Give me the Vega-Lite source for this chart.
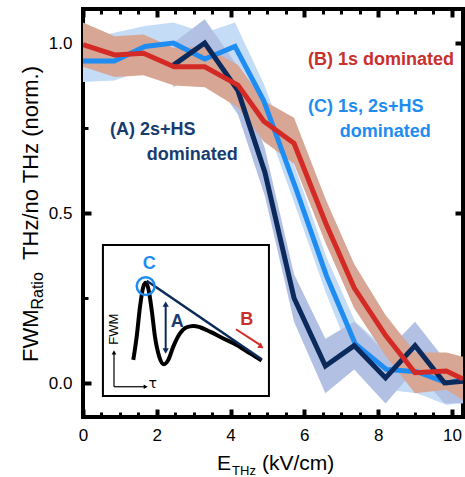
{
  "$schema": "https://vega.github.io/schema/vega-lite/v6.json",
  "width": 380,
  "height": 408,
  "autosize": {"type": "none"},
  "padding": {"left": 83, "top": 9, "right": 2, "bottom": 60},
  "background": "white",
  "config": {
    "view": {"stroke": "black", "strokeWidth": 4},
    "font": "Liberation Sans",
    "axis": {"domain": false, "grid": false, "labelFont": "Liberation Sans", "labelFontSize": 17, "labelColor": "black", "tickColor": "black", "labelFlush": false, "labelOverlap": false, "zindex": 1}
  },
  "resolve": {"axis": {"x": "independent", "y": "independent"}},
  "datasets": {
    "series": [
      {"s": "C", "x": 0, "y": 0.947, "lo": 0.885, "hi": 1.01},
      {"s": "C", "x": 0.85, "y": 0.947, "lo": 0.89, "hi": 1.03},
      {"s": "C", "x": 1.68, "y": 0.99, "lo": 0.92, "hi": 1.05},
      {"s": "C", "x": 2.45, "y": 1.0, "lo": 0.93, "hi": 1.06},
      {"s": "C", "x": 3.3, "y": 0.953, "lo": 0.89, "hi": 1.03},
      {"s": "C", "x": 4.12, "y": 0.99, "lo": 0.93, "hi": 1.06},
      {"s": "C", "x": 4.9, "y": 0.83, "lo": 0.78, "hi": 0.88},
      {"s": "C", "x": 5.76, "y": 0.575, "lo": 0.52, "hi": 0.63},
      {"s": "C", "x": 6.6, "y": 0.315, "lo": 0.26, "hi": 0.37},
      {"s": "C", "x": 7.38, "y": 0.115, "lo": 0.05, "hi": 0.18},
      {"s": "C", "x": 8.22, "y": 0.04, "lo": -0.02, "hi": 0.1},
      {"s": "C", "x": 9.05, "y": 0.033, "lo": -0.03, "hi": 0.09},
      {"s": "C", "x": 9.87, "y": 0.0, "lo": -0.065, "hi": 0.06},
      {"s": "C", "x": 10.3, "y": 0.01, "lo": -0.055, "hi": 0.07},
      {"s": "A", "x": 2.45, "y": 0.935, "lo": 0.87, "hi": 1.0},
      {"s": "A", "x": 3.3, "y": 1.0, "lo": 0.93, "hi": 1.07},
      {"s": "A", "x": 4.2, "y": 0.86, "lo": 0.79, "hi": 0.93},
      {"s": "A", "x": 4.93, "y": 0.62, "lo": 0.55, "hi": 0.69},
      {"s": "A", "x": 5.72, "y": 0.25, "lo": 0.18, "hi": 0.32},
      {"s": "A", "x": 6.57, "y": 0.05, "lo": -0.03, "hi": 0.13},
      {"s": "A", "x": 7.35, "y": 0.11, "lo": 0.04, "hi": 0.18},
      {"s": "A", "x": 8.2, "y": 0.015, "lo": -0.06, "hi": 0.09},
      {"s": "A", "x": 9.0, "y": 0.11, "lo": 0.04, "hi": 0.18},
      {"s": "A", "x": 9.8, "y": 0.0, "lo": -0.06, "hi": 0.07},
      {"s": "A", "x": 10.3, "y": 0.005, "lo": -0.06, "hi": 0.07},
      {"s": "B", "x": 0, "y": 0.995, "lo": 0.93, "hi": 1.06},
      {"s": "B", "x": 0.86, "y": 0.965, "lo": 0.9, "hi": 1.02},
      {"s": "B", "x": 1.64, "y": 0.97, "lo": 0.905, "hi": 1.025},
      {"s": "B", "x": 2.47, "y": 0.93, "lo": 0.875, "hi": 0.985},
      {"s": "B", "x": 3.3, "y": 0.93, "lo": 0.87, "hi": 0.99},
      {"s": "B", "x": 4.2, "y": 0.876, "lo": 0.81, "hi": 0.935},
      {"s": "B", "x": 4.9, "y": 0.77, "lo": 0.71, "hi": 0.83},
      {"s": "B", "x": 5.72, "y": 0.705, "lo": 0.645, "hi": 0.78},
      {"s": "B", "x": 6.58, "y": 0.47, "lo": 0.41, "hi": 0.54},
      {"s": "B", "x": 7.35, "y": 0.28, "lo": 0.22, "hi": 0.35},
      {"s": "B", "x": 8.2, "y": 0.14, "lo": 0.08, "hi": 0.2},
      {"s": "B", "x": 9.0, "y": 0.03, "lo": -0.03, "hi": 0.09},
      {"s": "B", "x": 9.85, "y": 0.035, "lo": -0.02, "hi": 0.09},
      {"s": "B", "x": 10.3, "y": 0.012, "lo": -0.05, "hi": 0.077}
    ],
    "ann": [
      {"g": "B", "t": "(B) 1s dominated", "x": 6.1, "y": 0.95},
      {"g": "C", "t": "(C) 1s, 2s+HS", "x": 6.1, "y": 0.812},
      {"g": "C", "t": "dominated", "x": 6.96, "y": 0.738},
      {"g": "A", "t": "(A) 2s+HS", "x": 0.73, "y": 0.744},
      {"g": "A", "t": "dominated", "x": 1.73, "y": 0.67},
      {"g": "iC", "t": "C", "x": 1.797, "y": 0.35},
      {"g": "iA", "t": "A", "x": 2.556, "y": 0.18},
      {"g": "iB", "t": "B", "x": 4.436, "y": 0.185}
    ],
    "curve": [
      {"x": 1.363, "y": 0.068}, {"x": 1.455, "y": 0.136}, {"x": 1.545, "y": 0.224},
      {"x": 1.634, "y": 0.283}, {"x": 1.699, "y": 0.295}, {"x": 1.77, "y": 0.278},
      {"x": 1.862, "y": 0.215}, {"x": 1.951, "y": 0.136}, {"x": 2.068, "y": 0.077},
      {"x": 2.195, "y": 0.055}, {"x": 2.312, "y": 0.068}, {"x": 2.447, "y": 0.107},
      {"x": 2.629, "y": 0.146}, {"x": 2.81, "y": 0.164}, {"x": 2.989, "y": 0.168},
      {"x": 3.171, "y": 0.164}, {"x": 3.442, "y": 0.151}, {"x": 3.802, "y": 0.131},
      {"x": 4.165, "y": 0.112}, {"x": 4.526, "y": 0.087}, {"x": 4.843, "y": 0.066}
    ],
    "arr": [
      {"k": "A", "x": 2.241, "y": 0.1, "x2": 2.241, "y2": 0.228},
      {"k": "B", "x": 4.146, "y": 0.158, "x2": 4.8, "y2": 0.112},
      {"k": "V", "x": 0.84, "y": -0.011, "x2": 0.84, "y2": 0.085},
      {"k": "H", "x": 0.84, "y": -0.011, "x2": 1.68, "y2": -0.011}
    ],
    "heads": [
      {"k": "A", "d": "up", "x": 2.241, "y": 0.232},
      {"k": "A", "d": "down", "x": 2.241, "y": 0.094},
      {"k": "V", "d": "up", "x": 0.84, "y": 0.09},
      {"k": "H", "d": "right", "x": 1.7, "y": -0.011}
    ],
    "titles": [
      {"k": "xm", "t": "E", "x": 3.63, "y": -0.256},
      {"k": "xs", "t": "THz", "x": 4.04, "y": -0.272},
      {"k": "xm", "t": "(kV/cm)", "x": 4.85, "y": -0.256},
      {"k": "ym", "t": "FWM", "x": -1.22, "y": 0.062},
      {"k": "ys", "t": "Ratio", "x": -1.084, "y": 0.216},
      {"k": "ym", "t": "THz/no THz (norm.)", "x": -1.22, "y": 0.362}
    ]
  },
  "encoding": {
    "x": {"field": "x", "type": "quantitative", "scale": {"domain": [0, 10.3], "nice": false, "zero": false}, "axis": null},
    "y": {"field": "y", "type": "quantitative", "scale": {"domain": [-0.1, 1.1], "nice": false, "zero": false}, "axis": null}
  },
  "layer": [
    {
      "data": {"name": "series"},
      "transform": [{"filter": "datum.s === 'C'"}],
      "mark": {"type": "area", "color": "#c4dcf6", "opacity": 1, "clip": true},
      "encoding": {
        "x": {"field": "x", "type": "quantitative", "scale": {"domain": [0, 10.3], "nice": false, "zero": false},
              "axis": {"orient": "bottom", "values": [0, 2, 4, 6, 8, 10], "ticks": false, "labelPadding": 10, "title": null}},
        "y": {"field": "lo", "type": "quantitative", "scale": {"domain": [-0.1, 1.1], "nice": false, "zero": false},
              "axis": {"orient": "left", "values": [0, 0.5, 1], "format": ".1f", "ticks": false, "labelPadding": 11, "title": null}},
        "y2": {"field": "hi"}
      }
    },
    {
      "data": {"name": "series"},
      "transform": [{"filter": "datum.s === 'A'"}],
      "mark": {"type": "area", "color": "#b1c0e3", "opacity": 1, "clip": true},
      "encoding": {
        "x": {"field": "x", "type": "quantitative", "scale": {"domain": [0, 10.3], "nice": false, "zero": false},
              "axis": {"orient": "bottom", "values": [0, 2, 4, 6, 8, 10], "labels": false, "offset": -8, "tickSize": 8, "tickWidth": 4, "title": null}},
        "y": {"field": "lo", "type": "quantitative", "scale": {"domain": [-0.1, 1.1], "nice": false, "zero": false},
              "axis": {"orient": "left", "values": [0, 0.5, 1], "labels": false, "offset": -8, "tickSize": 8, "tickWidth": 4, "title": null}},
        "y2": {"field": "hi"}
      }
    },
    {
      "data": {"name": "series"},
      "transform": [{"filter": "datum.s === 'B'"}],
      "mark": {"type": "area", "color": "#d7a694", "opacity": 1, "clip": true},
      "encoding": {
        "x": {"field": "x", "type": "quantitative", "scale": {"domain": [0, 10.3], "nice": false, "zero": false},
              "axis": {"orient": "bottom", "values": [0.5, 1, 1.5, 2.5, 3, 3.5, 4.5, 5, 5.5, 6.5, 7, 7.5, 8.5, 9, 9.5], "labels": false, "offset": -5, "tickSize": 5, "tickWidth": 3, "title": null}},
        "y": {"field": "lo", "type": "quantitative", "scale": {"domain": [-0.1, 1.1], "nice": false, "zero": false},
              "axis": {"orient": "left", "values": [0.25, 0.75], "labels": false, "offset": -5, "tickSize": 5, "tickWidth": 3, "title": null}},
        "y2": {"field": "hi"}
      }
    },
    {
      "data": {"name": "series"},
      "transform": [{"filter": "datum.s === 'C'"}],
      "mark": {"type": "line", "color": "#1e8cf0", "strokeWidth": 5, "clip": true},
      "encoding": {
        "x": {"field": "x", "type": "quantitative", "scale": {"domain": [0, 10.3], "nice": false, "zero": false},
              "axis": {"orient": "top", "values": [0, 2, 4, 6, 8, 10], "labels": false, "offset": -8, "tickSize": 8, "tickWidth": 4, "title": null}},
        "y": {"field": "y", "type": "quantitative", "scale": {"domain": [-0.1, 1.1], "nice": false, "zero": false},
              "axis": {"orient": "right", "values": [0, 0.5, 1], "labels": false, "offset": -8, "tickSize": 8, "tickWidth": 4, "title": null}}
      }
    },
    {
      "data": {"name": "series"},
      "transform": [{"filter": "datum.s === 'A'"}],
      "mark": {"type": "line", "color": "#0b2a5b", "strokeWidth": 5, "clip": true},
      "encoding": {
        "x": {"field": "x", "type": "quantitative", "scale": {"domain": [0, 10.3], "nice": false, "zero": false},
              "axis": {"orient": "top", "values": [0.5, 1, 1.5, 2.5, 3, 3.5, 4.5, 5, 5.5, 6.5, 7, 7.5, 8.5, 9, 9.5], "labels": false, "offset": -5, "tickSize": 5, "tickWidth": 3, "title": null}}
      }
    },
    {
      "data": {"name": "series"},
      "transform": [{"filter": "datum.s === 'B'"}],
      "mark": {"type": "line", "color": "#d42a26", "strokeWidth": 5, "clip": true},
      "encoding": {}
    },
    {
      "data": {"values": [{"x": 0.54, "x2": 5.04, "y": -0.038, "y2": 0.406}]},
      "mark": {"type": "rect", "fill": "white", "stroke": "black", "strokeWidth": 2},
      "encoding": {"x2": {"field": "x2"}, "y2": {"field": "y2"}}
    },
    {
      "data": {"name": "curve"},
      "mark": {"type": "line", "color": "black", "strokeWidth": 4, "interpolate": "monotone"},
      "encoding": {}
    },
    {
      "data": {"values": [{"x": 1.726, "y": 0.301}, {"x": 4.843, "y": 0.0696}]},
      "mark": {"type": "line", "color": "#0b2a5b", "strokeWidth": 2.5},
      "encoding": {}
    },
    {
      "data": {"values": [{"x": 1.699, "y": 0.285}]},
      "mark": {"type": "point", "shape": "circle", "size": 320, "filled": false, "stroke": "#1e8cf0", "strokeWidth": 2.5, "opacity": 1},
      "encoding": {}
    },
    {
      "data": {"name": "arr"},
      "transform": [{"filter": "datum.k === 'A'"}],
      "mark": {"type": "rule", "color": "#0b2a5b", "strokeWidth": 2},
      "encoding": {"x2": {"field": "x2"}, "y2": {"field": "y2"}}
    },
    {
      "data": {"name": "arr"},
      "transform": [{"filter": "datum.k === 'B'"}],
      "mark": {"type": "rule", "color": "#d42a26", "strokeWidth": 2},
      "encoding": {"x2": {"field": "x2"}, "y2": {"field": "y2"}}
    },
    {
      "data": {"name": "arr"},
      "transform": [{"filter": "datum.k === 'V' || datum.k === 'H'"}],
      "mark": {"type": "rule", "color": "black", "strokeWidth": 1.2},
      "encoding": {"x2": {"field": "x2"}, "y2": {"field": "y2"}}
    },
    {
      "data": {"name": "heads"},
      "transform": [{"filter": "datum.k === 'A'"}],
      "mark": {"type": "point", "filled": true, "color": "#0b2a5b", "size": 40, "opacity": 1},
      "encoding": {"shape": {"field": "d", "type": "nominal", "scale": {"domain": ["up", "down", "right"], "range": ["triangle-up", "triangle-down", "triangle-right"]}, "legend": null}}
    },
    {
      "data": {"name": "heads"},
      "transform": [{"filter": "datum.k === 'V' || datum.k === 'H'"}],
      "mark": {"type": "point", "filled": true, "color": "black", "size": 22, "opacity": 1},
      "encoding": {"shape": {"field": "d", "type": "nominal", "scale": {"domain": ["up", "down", "right"], "range": ["triangle-up", "triangle-down", "triangle-right"]}, "legend": null}}
    },
    {
      "data": {"values": [{"x": 4.83, "y": 0.107}]},
      "mark": {"type": "point", "shape": "triangle-right", "angle": 35, "filled": true, "color": "#d42a26", "size": 40, "opacity": 1},
      "encoding": {}
    },
    {
      "data": {"name": "ann"},
      "transform": [{"filter": "datum.g === 'A'"}],
      "mark": {"type": "text", "font": "Liberation Sans", "fontWeight": "bold", "fontSize": 18, "align": "left", "baseline": "middle", "color": "#173c70"},
      "encoding": {"text": {"field": "t"}}
    },
    {
      "data": {"name": "ann"},
      "transform": [{"filter": "datum.g === 'B'"}],
      "mark": {"type": "text", "font": "Liberation Sans", "fontWeight": "bold", "fontSize": 18, "align": "left", "baseline": "middle", "color": "#c9302c"},
      "encoding": {"text": {"field": "t"}}
    },
    {
      "data": {"name": "ann"},
      "transform": [{"filter": "datum.g === 'C'"}],
      "mark": {"type": "text", "font": "Liberation Sans", "fontWeight": "bold", "fontSize": 18, "align": "left", "baseline": "middle", "color": "#1e8cf0"},
      "encoding": {"text": {"field": "t"}}
    },
    {
      "data": {"name": "ann"},
      "transform": [{"filter": "datum.g === 'iC'"}],
      "mark": {"type": "text", "font": "Liberation Sans", "fontWeight": "bold", "fontSize": 18, "align": "center", "baseline": "middle", "color": "#1e8cf0"},
      "encoding": {"text": {"field": "t"}}
    },
    {
      "data": {"name": "ann"},
      "transform": [{"filter": "datum.g === 'iA'"}],
      "mark": {"type": "text", "font": "Liberation Sans", "fontWeight": "bold", "fontSize": 18, "align": "center", "baseline": "middle", "color": "#173c70"},
      "encoding": {"text": {"field": "t"}}
    },
    {
      "data": {"name": "ann"},
      "transform": [{"filter": "datum.g === 'iB'"}],
      "mark": {"type": "text", "font": "Liberation Sans", "fontWeight": "bold", "fontSize": 18, "align": "center", "baseline": "middle", "color": "#c9302c"},
      "encoding": {"text": {"field": "t"}}
    },
    {
      "data": {"values": [{"t": "FWM", "x": 0.84, "y": 0.158}]},
      "mark": {"type": "text", "font": "Liberation Sans", "fontSize": 13, "angle": 270, "align": "center", "baseline": "middle", "color": "black"},
      "encoding": {"text": {"field": "t"}}
    },
    {
      "data": {"values": [{"t": "τ", "x": 1.889, "y": -0.003}]},
      "mark": {"type": "text", "font": "DejaVu Sans", "fontSize": 14, "align": "center", "baseline": "middle", "color": "black"},
      "encoding": {"text": {"field": "t"}}
    },
    {
      "data": {"name": "titles"},
      "transform": [{"filter": "datum.k === 'xm'"}],
      "mark": {"type": "text", "font": "Liberation Sans", "fontSize": 21, "align": "left", "baseline": "alphabetic", "color": "black"},
      "encoding": {"text": {"field": "t"}}
    },
    {
      "data": {"name": "titles"},
      "transform": [{"filter": "datum.k === 'xs'"}],
      "mark": {"type": "text", "font": "Liberation Sans", "fontSize": 13, "align": "left", "baseline": "alphabetic", "color": "black"},
      "encoding": {"text": {"field": "t"}}
    },
    {
      "data": {"name": "titles"},
      "transform": [{"filter": "datum.k === 'ym'"}],
      "mark": {"type": "text", "font": "Liberation Sans", "fontSize": 22, "angle": 270, "align": "left", "baseline": "alphabetic", "color": "black"},
      "encoding": {"text": {"field": "t"}}
    },
    {
      "data": {"name": "titles"},
      "transform": [{"filter": "datum.k === 'ys'"}],
      "mark": {"type": "text", "font": "Liberation Sans", "fontSize": 16, "angle": 270, "align": "left", "baseline": "alphabetic", "color": "black"},
      "encoding": {"text": {"field": "t"}}
    }
  ]
}
